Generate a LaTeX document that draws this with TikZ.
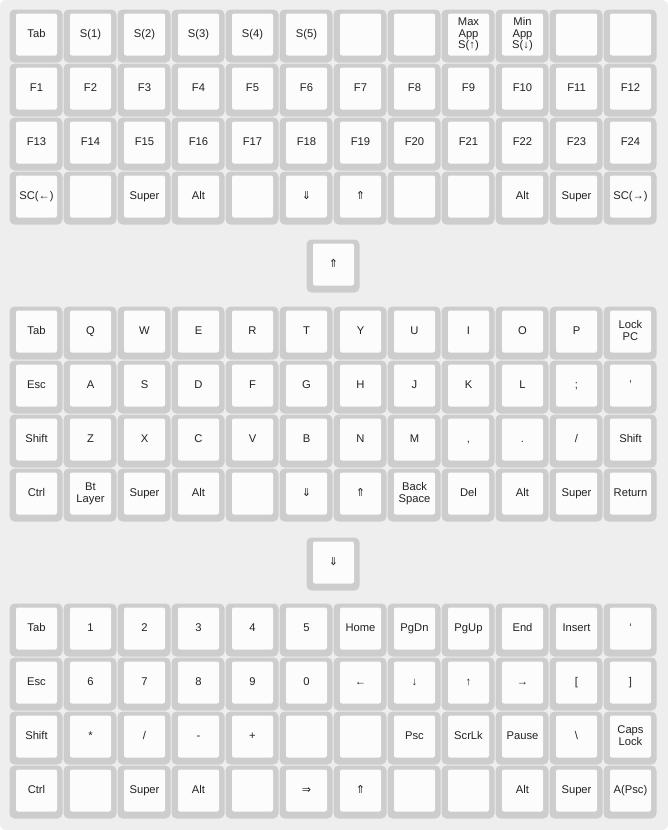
\documentclass[tikz,border=0pt]{standalone}
\usepackage{fontspec}
\setmainfont{Liberation Sans}
\newfontfamily\arrowfont{DejaVu Sans}
\newcommand\ar[1]{#1}
\newcommand\dar[1]{{\arrowfont\fontsize{11}{11}\selectfont #1}}
\definecolor{bgcol}{HTML}{EEEEEE}
\definecolor{sidecol}{HTML}{CDCDCD}
\definecolor{topcol}{HTML}{FCFCFC}
\definecolor{txtcol}{HTML}{222222}
\tikzset{
  keyside/.style={fill=sidecol, draw=none, rounded corners=5pt, minimum width=53pt, minimum height=53pt, inner sep=0pt},
  keytop/.style={fill=topcol, draw=none, rounded corners=2pt, minimum width=41pt, minimum height=42pt, inner sep=0pt, align=center, text=txtcol, font=\fontsize{11.2}{11.5}\selectfont},
}
\newcommand\keyrow[3]{%
  \foreach \lab [count=\i from 0] in {#3} {
    \pgfmathsetmacro\kx{10+54*\i}
    \node[keyside] (#1-\i-s) at (\kx+26, #2+26) {};
    \node[keytop] (#1-\i) at (\kx+26.5, #2+24.5) {\vphantom{(}\lab\vphantom{(}};
  }}
\newcommand\lonekey[3]{%
  \node[keyside] (#1-s) at (307+26, #2+26) {};
  \node[keytop] (#1) at (307+26.5, #2+24.5) {\vphantom{(}#3};
}
\begin{document}
\begin{tikzpicture}[x=1pt, y=-1pt]
\useasboundingbox (0,0) rectangle (668,830);
\fill[bgcol, rounded corners=6pt] (0,0) rectangle (668,830);
% Layer 1
\keyrow{a0}{10}{Tab,S(1),S(2),S(3),S(4),S(5),{},{},Max\\App\\S(\ar{↑}),Min\\App\\S(\ar{↓}),{},{}}
\keyrow{a1}{64}{F1,F2,F3,F4,F5,F6,F7,F8,F9,F10,F11,F12}
\keyrow{a2}{118}{F13,F14,F15,F16,F17,F18,F19,F20,F21,F22,F23,F24}
\keyrow{a3}{172}{SC(\ar{←}),{},Super,Alt,{},\dar{⇓},\dar{⇑},{},{},Alt,Super,SC(\ar{→})}
\lonekey{t1}{240}{\dar{⇑}}
% Layer 2
\keyrow{b0}{307}{Tab,Q,W,E,R,T,Y,U,I,O,P,Lock\\PC}
\keyrow{b1}{361}{Esc,A,S,D,F,G,H,J,K,L,;,\symbol{39}}
\keyrow{b2}{415}{Shift,Z,X,C,V,B,N,M,{,},.,/,Shift}
\keyrow{b3}{469}{Ctrl,Bt\\Layer,Super,Alt,{},\dar{⇓},\dar{⇑},Back\\Space,Del,Alt,Super,Return}
\lonekey{t2}{538}{\dar{⇓}}
% Layer 3
\keyrow{c0}{604}{Tab,1,2,3,4,5,Home,PgDn,PgUp,End,Insert,\symbol{96}}
\keyrow{c1}{658}{Esc,6,7,8,9,0,\ar{←},\ar{↓},\ar{↑},\ar{→},[,]}
\keyrow{c2}{712}{Shift,*,/,-,+,{},{},Psc,ScrLk,Pause,\textbackslash,Caps\\Lock}
\keyrow{c3}{766}{Ctrl,{},Super,Alt,{},\dar{⇒},\dar{⇑},{},{},Alt,Super,A(Psc)}
\end{tikzpicture}
\end{document}
